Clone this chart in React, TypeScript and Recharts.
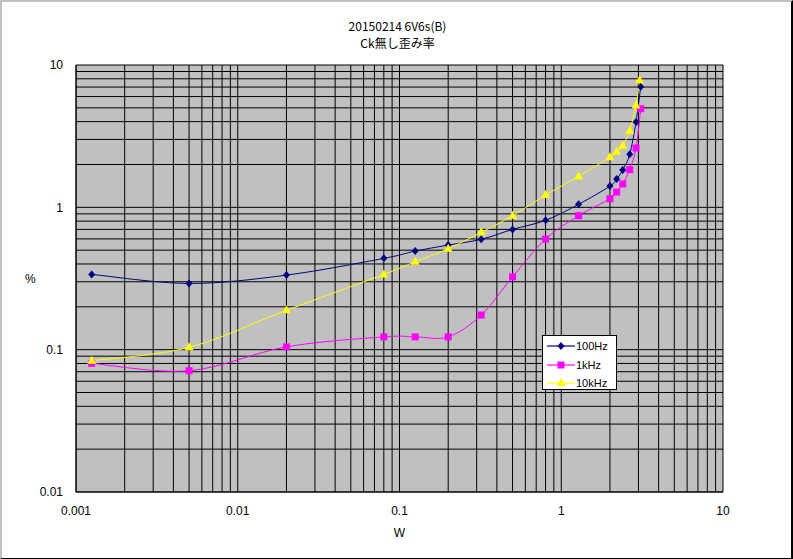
import React from "react";
import { CartesianGrid, Label, Line, LineChart, XAxis, YAxis } from "recharts";

const titleLines = ["20150214 6V6s(B)", "Ck無し歪み率"];
const seriesNames = ["100Hz", "1kHz", "10kHz"];
const seriesColors = ["#000080", "#ff00ff", "#ffff00"];

// output power (W) and distortion (%) per test frequency
const power100 = [0.00125, 0.005, 0.02, 0.08, 0.125, 0.2, 0.32, 0.5, 0.8, 1.28, 2.0, 2.2, 2.4, 2.65, 2.9, 3.1];
const thd100 = [0.338, 0.292, 0.334, 0.438, 0.493, 0.543, 0.596, 0.7, 0.81, 1.05, 1.41, 1.58, 1.83, 2.36, 3.98, 7.04];
const power1k = [0.00125, 0.005, 0.02, 0.08, 0.125, 0.2, 0.32, 0.5, 0.8, 1.28, 2.0, 2.2, 2.4, 2.65, 2.9, 3.1];
const thd1k = [0.0802, 0.0711, 0.1047, 0.123, 0.123, 0.123, 0.175, 0.325, 0.599, 0.873, 1.149, 1.28, 1.46, 1.84, 2.61, 4.93];
const power10k = [0.00125, 0.005, 0.02, 0.08, 0.125, 0.2, 0.32, 0.5, 0.8, 1.28, 2.0, 2.2, 2.4, 2.65, 2.9, 3.05];
const thd10k = [0.0836, 0.1038, 0.189, 0.338, 0.415, 0.512, 0.667, 0.873, 1.22, 1.65, 2.25, 2.47, 2.71, 3.45, 5.2, 7.8];

const xTicks = [
  0.001, 0.002, 0.003, 0.004, 0.005, 0.006, 0.007, 0.008, 0.009,
  0.01, 0.02, 0.03, 0.04, 0.05, 0.06, 0.07, 0.08, 0.09,
  0.1, 0.2, 0.3, 0.4, 0.5, 0.6, 0.7, 0.8, 0.9,
  1, 2, 3, 4, 5, 6, 7, 8, 9, 10,
];
const xLabels = [0.001, 0.01, 0.1, 1, 10];
const yTicks = [
  0.01, 0.02, 0.03, 0.04, 0.05, 0.06, 0.07, 0.08, 0.09,
  0.1, 0.2, 0.3, 0.4, 0.5, 0.6, 0.7, 0.8, 0.9,
  1, 2, 3, 4, 5, 6, 7, 8, 9, 10,
];
const yLabels = [0.01, 0.1, 1, 10];

const toPoints = (xs: number[], ys: number[]) => xs.map((x, i) => ({ x, y: ys[i] }));
const data100 = toPoints(power100, thd100);
const data1k = toPoints(power1k, thd1k);
const data10k = toPoints(power10k, thd10k);

const font = "'Liberation Sans', Arial, sans-serif";

// Excel-like smoothed line (Catmull-Rom as cubic bezier)
const excelSmooth = (context: any) => {
  let pts: number[][] = [];
  return {
    areaStart() {},
    areaEnd() {},
    lineStart() {
      pts = [];
    },
    point(x: number, y: number) {
      pts.push([+x, +y]);
    },
    lineEnd() {
      const n = pts.length;
      if (!n) return;
      context.moveTo(pts[0][0], pts[0][1]);
      for (let i = 0; i < n - 1; i++) {
        const p0 = pts[Math.max(i - 1, 0)];
        const p1 = pts[i];
        const p2 = pts[i + 1];
        const p3 = pts[Math.min(i + 2, n - 1)];
        context.bezierCurveTo(
          p1[0] + (p2[0] - p0[0]) / 6,
          p1[1] + (p2[1] - p0[1]) / 6,
          p2[0] - (p3[0] - p1[0]) / 6,
          p2[1] - (p3[1] - p1[1]) / 6,
          p2[0],
          p2[1]
        );
      }
    },
  };
};

function marker(kind: number, cx: number, cy: number, key?: string) {
  if (kind === 0)
    return (
      <path key={key} d={`M${cx},${cy - 4}L${cx + 3.5},${cy}L${cx},${cy + 4}L${cx - 3.5},${cy}Z`} fill={seriesColors[0]} />
    );
  if (kind === 1)
    return <rect key={key} x={cx - 3.5} y={cy - 3.5} width={7} height={7} fill={seriesColors[1]} />;
  return (
    <path key={key} d={`M${cx},${cy - 5}L${cx + 4.5},${cy + 3}L${cx - 4.5},${cy + 3}Z`} fill={seriesColors[2]} />
  );
}

const dotFor = (kind: number) => (props: any) => {
  const { cx, cy, index } = props;
  if (cx == null || cy == null) return <g key={`e-${kind}-${index}`} />;
  return marker(kind, cx, cy, `m-${kind}-${index}`);
};

function LegendBox() {
  return (
    <div
      style={{
        position: "absolute",
        left: 542,
        top: 335,
        width: 73,
        height: 53,
        background: "#fff",
        border: "1px solid #000",
        fontFamily: font,
        fontSize: 11,
      }}
    >
      {seriesNames.map((name, i) => (
        <div key={name} style={{ position: "absolute", left: 0, top: 3 + i * 18.5, height: 14, width: 73 }}>
          <svg width={30} height={14} style={{ position: "absolute", left: 3, top: 0 }}>
            <line x1={1} y1={7} x2={29} y2={7} stroke={seriesColors[i]} strokeWidth={1.2} />
            {marker(i, 15, 7)}
          </svg>
          <span style={{ position: "absolute", left: 33, top: 0, lineHeight: "14px" }}>{name}</span>
        </div>
      ))}
    </div>
  );
}

export default function App() {
  const tickStyle = { fontSize: 12, fill: "#000", fontFamily: font };
  return (
    <div style={{ position: "absolute", left: 0, top: 0, width: 793, height: 559, background: "#fff" }}>
      <div
        style={{
          position: "absolute",
          left: 0,
          top: 0,
          width: 793,
          textAlign: "center",
          fontFamily: "'Noto Sans CJK JP', sans-serif",
          fontSize: 12,
          lineHeight: "17px",
          paddingTop: 17,
          paddingLeft: 2,
          boxSizing: "border-box",
        }}
      >
        {titleLines.map((t) => (
          <div key={t}>{t}</div>
        ))}
      </div>
      <LineChart width={793} height={559} margin={{ top: 65, right: 70, bottom: 0, left: 0 }}>
        <CartesianGrid stroke="#000" fill="#c0c0c0" fillOpacity={1} />
        <XAxis
          dataKey="x"
          type="number"
          scale="log"
          domain={[0.001, 10]}
          ticks={xTicks}
          interval={0}
          allowDataOverflow
          height={67}
          tickLine={false}
          tickMargin={8}
          axisLine={{ stroke: "#000" }}
          tick={tickStyle}
          tickFormatter={(v: number) => (xLabels.includes(v) ? String(v) : "")}
        >
          <Label value="W" position="insideBottom" offset={22} style={{ fontSize: 12, fill: "#000", fontFamily: font }} />
        </XAxis>
        <YAxis
          dataKey="y"
          type="number"
          scale="log"
          domain={[0.01, 10]}
          ticks={yTicks}
          interval={0}
          allowDataOverflow
          width={76}
          tickLine={false}
          tickMargin={7}
          axisLine={{ stroke: "#000" }}
          tick={tickStyle}
          tickFormatter={(v: number) => (yLabels.includes(v) ? String(v) : "")}
        >
          <Label value="%" position="insideLeft" offset={25} style={{ fontSize: 12, fill: "#000", fontFamily: font }} />
        </YAxis>
        <Line
          data={data100}
          dataKey="y"
          name={seriesNames[0]}
          type={excelSmooth as any}
          stroke={seriesColors[0]}
          strokeWidth={1}
          dot={dotFor(0)}
          activeDot={false}
          isAnimationActive={false}
        />
        <Line
          data={data1k}
          dataKey="y"
          name={seriesNames[1]}
          type={excelSmooth as any}
          stroke={seriesColors[1]}
          strokeWidth={1}
          dot={dotFor(1)}
          activeDot={false}
          isAnimationActive={false}
        />
        <Line
          data={data10k}
          dataKey="y"
          name={seriesNames[2]}
          type={excelSmooth as any}
          stroke={seriesColors[2]}
          strokeWidth={1}
          dot={dotFor(2)}
          activeDot={false}
          isAnimationActive={false}
        />
      </LineChart>
      <LegendBox />
      <div
        style={{
          position: "absolute",
          left: 0,
          top: 0,
          width: 793,
          height: 559,
          boxSizing: "border-box",
          borderTop: "2px solid #c0c0c0",
          borderLeft: "2px solid #c0c0c0",
          borderRight: "2px solid #000",
          borderBottom: "1px solid #000",
          pointerEvents: "none",
        }}
      />
    </div>
  );
}
